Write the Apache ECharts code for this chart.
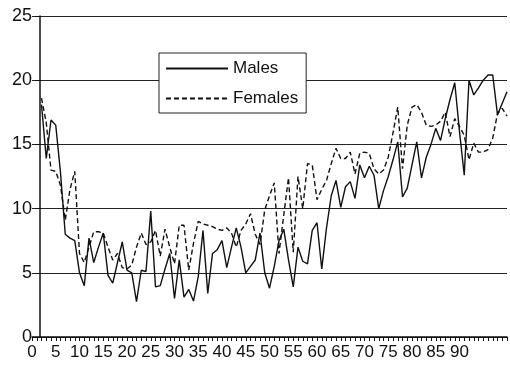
<!DOCTYPE html>
<html>
<head>
<meta charset="utf-8">
<script src="https://cdn.jsdelivr.net/npm/echarts@6/dist/echarts.min.js"></script>
<style>
  html, body { margin: 0; padding: 0; background: #fff; }
  #chart { width: 510px; height: 372px; }
</style>
</head>
<body>
<div id="chart"></div>
<script>
// age in years (one point per year)
const ages = [
  2, 3, 4, 5, 6, 7, 8, 9, 10, 11, 12, 13, 14, 15, 16, 17, 18, 19, 20, 21,
  22, 23, 24, 25, 26, 27, 28, 29, 30, 31, 32, 33, 34, 35, 36, 37, 38, 39, 40, 41,
  42, 43, 44, 45, 46, 47, 48, 49, 50, 51, 52, 53, 54, 55, 56, 57, 58, 59, 60, 61,
  62, 63, 64, 65, 66, 67, 68, 69, 70, 71, 72, 73, 74, 75, 76, 77, 78, 79, 80, 81,
  82, 83, 84, 85, 86, 87, 88, 89, 90, 91, 92, 93, 94, 95, 96, 97, 98, 99, 100
];

const males = [
  18.1, 13.9, 16.9, 16.5, 12.8, 8.0, 7.7, 7.5, 5.0, 4.0, 7.7, 5.8, 7.0, 8.1, 4.8, 4.2, 5.8, 7.4, 5.2, 5.0,
  2.75, 5.2, 5.1, 9.8, 3.9, 4.0, 5.3, 6.5, 3.0, 6.0, 3.1, 3.7, 2.8, 4.7, 8.3, 3.4, 6.5, 6.8, 7.5, 5.4,
  7.0, 8.5, 7.0, 5.0, 5.5, 6.0, 8.1, 5.0, 3.8, 5.5, 7.5, 8.4, 6.0, 3.9, 7.0, 5.9, 5.7, 8.3, 8.9, 5.3,
  8.5, 11.0, 12.2, 10.1, 11.7, 12.1, 10.8, 13.4, 12.4, 13.3, 12.6, 10.0, 11.4, 12.5, 13.8, 15.2, 10.9, 11.6, 13.4, 15.2,
  12.4, 14.0, 15.0, 16.25, 15.3, 17.0, 18.5, 19.8, 16.0, 12.6, 20.0, 18.85, 19.4, 20.0, 20.4, 20.4, 17.3, 18.2, 19.1
];

const females = [
  18.6, 16.7, 13.0, 12.9, 11.8, 9.1, 11.5, 12.9, 6.5, 5.8, 7.0, 8.2, 8.2, 8.1, 7.0, 6.0, 6.5, 5.4, 5.3, 5.6,
  7.0, 8.1, 7.2, 7.4, 8.3, 6.3, 8.4, 7.0, 5.7, 8.7, 8.7, 5.2, 7.3, 9.0, 8.8, 8.7, 8.6, 8.4, 8.3, 8.5,
  8.1, 7.0, 8.3, 8.8, 9.6, 8.0, 7.2, 9.9, 11.0, 12.0, 6.5, 9.5, 12.4, 6.6, 12.5, 10.0, 13.5, 13.4, 10.7, 11.5,
  12.2, 13.5, 14.7, 13.9, 13.9, 14.4, 12.7, 14.3, 14.4, 14.3, 13.1, 12.7, 13.0, 14.0, 15.9, 17.9, 13.1, 16.5, 17.9, 18.1,
  17.5, 16.5, 16.4, 16.5, 16.8, 17.5, 15.6, 17.0, 16.4, 15.7, 13.8, 15.1, 14.4, 14.4, 14.6, 15.5, 17.4, 17.8, 17.2
];

const LAST_LABEL = 90;
const FONT = "'Liberation Sans', Arial, sans-serif";
const INK = "#111";

const chart = echarts.init(document.getElementById("chart"), null, { renderer: "canvas" });

chart.setOption({
  animation: false,
  backgroundColor: "#fff",
  grid: { left: 32, right: 0, top: 16, bottom: 35 },
  legend: {
    orient: "vertical",
    left: 159,
    top: 53,
    itemWidth: 62,
    itemHeight: 14,
    itemGap: 13,
    padding: [7, 8, 6, 6],
    borderColor: "#222",
    borderWidth: 1,
    backgroundColor: "#fff",
    // hide the marker drawn in the middle of each legend line
    itemStyle: { opacity: 0, color: "transparent", borderWidth: 0 },
    textStyle: { fontSize: 17, color: INK, fontFamily: FONT },
    data: ["Males", "Females"],
  },
  xAxis: {
    type: "value",
    min: 0,
    max: 100,
    interval: 5,
    axisLine: { show: true, lineStyle: { color: INK, width: 1.5 } },
    axisTick: { show: true, length: 4, lineStyle: { color: INK } },
    minorTick: { show: true, splitNumber: 5, length: 4, lineStyle: { color: INK } },
    splitLine: { show: false },
    axisLabel: {
      color: INK,
      fontSize: 17,
      fontFamily: FONT,
      margin: 7,
      formatter: (v) => (v <= LAST_LABEL ? String(v) : ""),
    },
  },
  yAxis: {
    type: "value",
    min: 0,
    max: 25,
    interval: 5,
    offset: -8,
    axisLine: { show: true, lineStyle: { color: INK, width: 1.5 } },
    axisTick: { show: true, length: 5, lineStyle: { color: INK } },
    splitLine: { show: true, lineStyle: { color: "#222", width: 1 } },
    axisLabel: { color: INK, fontSize: 18, fontFamily: FONT, margin: 8 },
  },
  series: [
    {
      name: "Males",
      type: "line",
      symbol: "none",
      data: ages.map((a, i) => [a, males[i]]),
      lineStyle: { color: INK, width: 1.4 },
      itemStyle: { color: INK },
    },
    {
      name: "Females",
      type: "line",
      symbol: "none",
      data: ages.map((a, i) => [a, females[i]]),
      lineStyle: { color: INK, width: 1.4, type: [5, 3] },
      itemStyle: { color: INK },
    },
  ],
});
</script>
</body>
</html>
